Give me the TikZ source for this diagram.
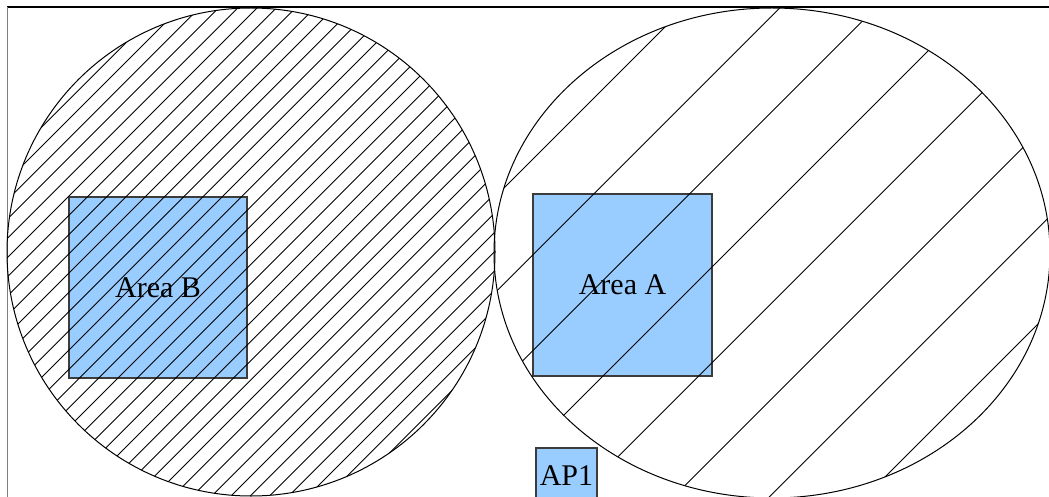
\documentclass[tikz,border=0pt]{standalone}
\usepackage{fontspec}
\setmainfont{Liberation Serif}
\definecolor{areablue}{HTML}{99CCFF}
\definecolor{edgegray}{HTML}{3C3C3C}
\tikzset{
  areabox/.style={draw=edgegray, line width=1.1pt, fill=areablue, inner sep=0pt},
  hatchline/.style={draw=black, line width=0.9pt},
  ringline/.style={draw=black, line width=1pt},
  lbl/.style={inner sep=0pt, font=\fontsize{30}{36}\selectfont},
}
\begin{document}
\begin{tikzpicture}[x=1pt,y=-1pt]
\useasboundingbox (0,0) rectangle (1049,497);
\clip (0,0) rectangle (1049,497);
% frame
\draw[black, line width=1.3pt] (7,7) -- (1049,7);
\draw[gray, line width=1.8pt] (7.5,7) -- (7.5,497);
% boxes
\node[areabox, minimum width=178pt, minimum height=181pt] (areaB) at (158,287.5) {};
\node[areabox, minimum width=179pt, minimum height=182pt] (areaA) at (622.5,285) {};
\node[areabox, minimum width=61pt, minimum height=56pt] (ap1) at (566.5,476) {};
% left circle hatch (dense)
\begin{scope}
  \clip (251,252) ellipse [x radius=244pt, y radius=244pt];
  \foreach \k in {-5,...,35} {
    \draw[hatchline] ({226.5+19.25*\k-600},600) -- ({226.5+19.25*\k},0);
  }
\end{scope}
% right ellipse hatch (sparse)
\begin{scope}
  \clip (772,253) ellipse [x radius=278pt, y radius=245pt];
  \foreach \k in {-1,...,8} {
    \draw[hatchline] ({692+95.7*\k-700},700) -- ({692+95.7*\k},0);
  }
\end{scope}
% outlines
\draw[ringline] (251,252) ellipse [x radius=244pt, y radius=244pt];
\draw[ringline] (772,253) ellipse [x radius=278pt, y radius=245pt];
% labels
\node[lbl] (areaBtext) at (areaB.center) {Area B};
\node[lbl] (areaAtext) at (areaA.center) {Area A};
\node[lbl] (ap1text) at (ap1.center) {AP1};
\end{tikzpicture}
\end{document}
